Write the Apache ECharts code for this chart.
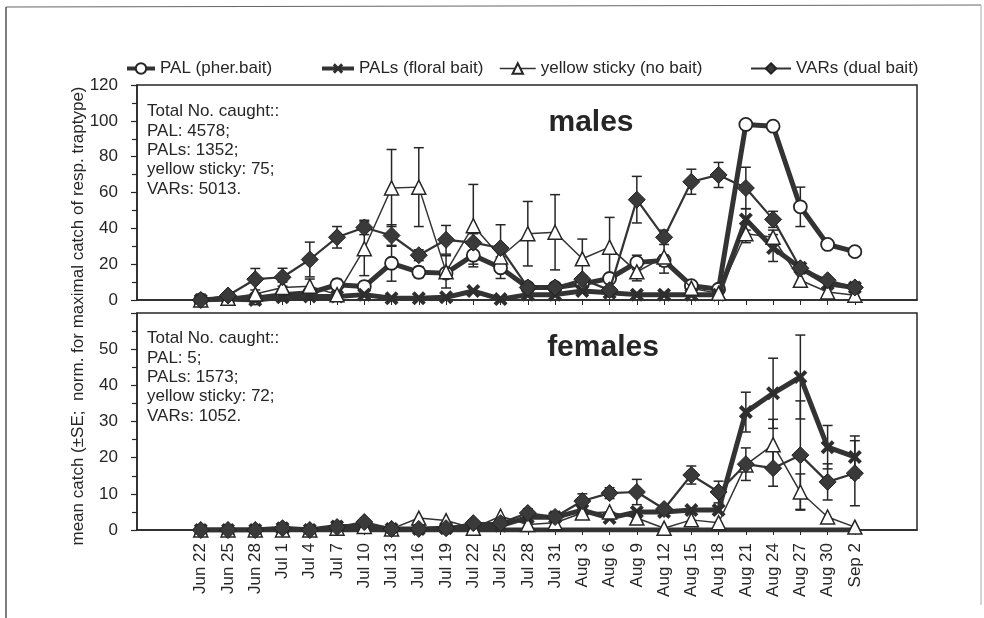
<!DOCTYPE html>
<html>
<head>
<meta charset="utf-8">
<script src="https://cdn.jsdelivr.net/npm/echarts@6/dist/echarts.min.js"></script>
<style>
  html, body { margin: 0; padding: 0; background: #ffffff; }
  #chart { width: 984px; height: 618px; }
</style>
</head>
<body>
<div id="chart"></div>
<script>
// Sampling dates (every 3 days)
const dates = ['Jun 22','Jun 25','Jun 28','Jul 1','Jul 4','Jul 7','Jul 10','Jul 13','Jul 16','Jul 19',
  'Jul 22','Jul 25','Jul 28','Jul 31','Aug 3','Aug 6','Aug 9','Aug 12','Aug 15','Aug 18',
  'Aug 21','Aug 24','Aug 27','Aug 30','Sep 2'];

const seriesNames = ['PAL (pher.bait)', 'PALs (floral bait)', 'yellow sticky (no bait)', 'VARs (dual bait)'];

// Males: mean catch, normalised, and standard errors
const malePAL      = [0,1,1,3,4,8.5,7.5,20.5,15.5,15,25,18,7,7,9,12,21,22,8,6,98,97,52,31,27];
const malePALse    = [0,0,0,0,0,3,0,10,3,0,5,6,0,0,0,0,4,3,0,0,0,0,11,0,2];
const malePALs     = [0,0.5,0,1.5,2,2,3,1,1,1.5,5,0.5,3,3,5,4,3,3,3,3,45,29,18,9,7];
const malePALsSe   = [0,0,0,0,0,0,0,0,0,0,0,0,0,0,0,0,0,0,0,0,6,7.5,2,0,0];
const maleYellow   = [0,1,3.3,7,7.7,3,28.6,62.5,63,15.7,41.5,24,37,37.8,23,29.5,15.7,24,6.6,3.7,37,35,11,4.5,2.7];
const maleYellowSe = [0,0,0,3,4,0,15,21.5,22,9,23,4,18,21,11,16.6,5,9,0,0,5,4,0,0,0];
const maleVARs     = [0,2.5,11.6,12.7,22.6,35,40.5,36,25,33.6,32,29,7,7,11.6,5.5,56,35,66,69.8,62.5,45,17.7,11,7];
const maleVARsSe   = [0,0,6,5,9.7,6,4,6,3,8,5,13,0,0,2,0,13,4,7,7,11.6,4.5,3,0,0];

// Females: mean catch and standard errors
const femPAL      = [0,0,0,0,0,0,0,0,0,0,0,0,0,0,0,0,0,0,0,0,0,0,0,0,0];
const femPALse    = [0,0,0,0,0,0,0,0,0,0,0,0,0,0,0,0,0,0,0,0,0,0,0,0,0];
const femPALs     = [0,0,0,0.5,0,1,1,0.3,0.3,0.5,1,1.2,3.5,3.5,5.5,3.3,5,5,5.5,5.5,32.6,37.8,42.3,22.9,20.2];
const femPALsSe   = [0,0,0,0,0,0,0,0,0,0,0,0,0,0,0,0,0,0,0,0,5.5,9.7,11.6,6,5.8];
const femYellow   = [0,0,0,0,0,0.5,1,0.3,3.3,2.6,0.5,3.8,1.5,2,4.7,5,3.3,0.5,2.8,2,18,23.6,10.5,3.6,0.8];
const femYellowSe = [0,0,0,0,0,0,0,0,0,0,0,0,0,0,0,0,0,0,0,0,0,7,5,0,0];
const femVARs     = [0,0,0,0.5,0,0.8,2.2,0.3,0.3,0.5,1.9,1.9,4.7,3.6,8,10.2,10.5,5.8,15.2,10.5,18.2,17.1,20.7,13.3,15.7];
const femVARsSe   = [0,0,0,0,0,0,0,0,0,0,0,0,1.2,1.5,2,1.5,3.5,0,2.5,3,4.5,5,15,5,9];

// Axis tick labels
const maleTicks = [0,20,40,60,80,100,120];
const femTicks  = [0,10,20,30,40,50];

const ink = '#262626';
const font = '"Liberation Sans", Arial, Helvetica, sans-serif';
const idx = dates.map((d, i) => i);

const xMin = -2.34, xMax = 26.28;

// Styles per trap type
const styles = [
  { symbol: 'circle', symbolSize: 13, lineWidth: 5, item: { color: '#ffffff', borderColor: ink, borderWidth: 1.8 } },
  { symbol: 'path://M2,0 L5,3 L8,0 L10,2 L7,5 L10,8 L8,10 L5,7 L2,10 L0,8 L3,5 L0,2 Z', symbolSize: 14, lineWidth: 5, item: { color: '#2e2e2e' } },
  { symbol: 'triangle', symbolSize: 14, lineWidth: 1.5, item: { color: '#ffffff', borderColor: ink, borderWidth: 1.5 } },
  { symbol: 'diamond', symbolSize: 17, lineWidth: 2.2, item: { color: '#3a3a3a', borderColor: '#222', borderWidth: 1 } }
];

function lineSeries(k, values, g) {
  const s = styles[k];
  return {
    type: 'line', name: seriesNames[k], xAxisIndex: g, yAxisIndex: g,
    data: values.map((v, i) => [i, v]),
    symbol: s.symbol, symbolSize: s.symbolSize, showAllSymbol: true,
    lineStyle: { color: '#333', width: s.lineWidth },
    itemStyle: s.item, z: 3 + k, animation: false
  };
}

function errSeries(values, se, g) {
  const data = [];
  values.forEach((v, i) => { if (se[i] > 0) data.push([i, Math.max(0, v - se[i]), v + se[i]]); });
  return {
    type: 'custom', xAxisIndex: g, yAxisIndex: g, data: data, z: 2, silent: true, animation: false,
    encode: { x: 0, y: [1, 2] },
    renderItem: function (params, api) {
      const lo = api.coord([api.value(0), api.value(1)]);
      const hi = api.coord([api.value(0), api.value(2)]);
      const w = 5;
      const st = { stroke: ink, lineWidth: 1.5 };
      return { type: 'group', children: [
        { type: 'line', shape: { x1: lo[0], y1: lo[1], x2: hi[0], y2: hi[1] }, style: st },
        { type: 'line', shape: { x1: hi[0] - w, y1: hi[1], x2: hi[0] + w, y2: hi[1] }, style: st },
        { type: 'line', shape: { x1: lo[0] - w, y1: lo[1], x2: lo[0] + w, y2: lo[1] }, style: st }
      ] };
    }
  };
}

function xAxisDef(g, labels) {
  return {
    type: 'value', gridIndex: g, min: xMin, max: xMax,
    axisLine: { show: true, onZero: false, lineStyle: { color: ink, width: 1.5 } },
    axisTick: { show: true, customValues: idx, length: 5, lineStyle: { color: ink, width: 1 } },
    axisLabel: labels ? {
      show: true, customValues: idx, rotate: 90, margin: 13,
      fontSize: 17, color: ink, fontFamily: font,
      formatter: v => dates[Math.round(v)] || ''
    } : { show: false },
    splitLine: { show: false }
  };
}

function yAxisDef(g, ticks, top) {
  return {
    type: 'value', gridIndex: g, min: 0, max: ticks[ticks.length - 1] + (top ? 0 : 10),
    interval: ticks[1] - ticks[0],
    axisLine: { show: true, onZero: false, lineStyle: { color: ink, width: 1.5 } },
    axisTick: { show: true, length: 6, lineStyle: { color: ink, width: 1.2 } },
    minorTick: { show: true, splitNumber: 2, length: 5, lineStyle: { color: ink, width: 1.2 } },
    axisLabel: {
      fontSize: 17, color: ink, fontFamily: font, margin: 19,
      formatter: v => (ticks.indexOf(v) >= 0 ? String(v) : '')
    },
    splitLine: { show: false }
  };
}

const legendWidth = [28, 32, 36, 40];
const legendText = [158, 357, 540, 795];
const legendLine = [4, 4, 1.5, 2];

const option = {
  backgroundColor: '#ffffff',
  animation: false,
  grid: [
    { left: 137, top: 85, width: 780, height: 215, show: true, borderColor: ink, borderWidth: 1.5, backgroundColor: 'transparent' },
    { left: 137, top: 313, width: 780, height: 217, show: true, borderColor: ink, borderWidth: 1.5, backgroundColor: 'transparent' }
  ],
  legend: seriesNames.map((n, k) => ({
    data: [n], left: legendText[k] - legendWidth[k] - 10, top: 55, itemWidth: legendWidth[k], itemHeight: 13,
    itemGap: 5, selectedMode: false,
    lineStyle: { width: legendLine[k], color: '#333' },
    textStyle: { fontSize: 17, color: ink, fontFamily: font }
  })),
  xAxis: [xAxisDef(0, false), xAxisDef(1, true)],
  yAxis: [yAxisDef(0, maleTicks, true), yAxisDef(1, femTicks, false)],
  series: [
    errSeries(malePAL, malePALse, 0),
    errSeries(malePALs, malePALsSe, 0),
    errSeries(maleYellow, maleYellowSe, 0),
    errSeries(maleVARs, maleVARsSe, 0),
    errSeries(femPAL, femPALse, 1),
    errSeries(femPALs, femPALsSe, 1),
    errSeries(femYellow, femYellowSe, 1),
    errSeries(femVARs, femVARsSe, 1),
    lineSeries(0, malePAL, 0),
    lineSeries(1, malePALs, 0),
    lineSeries(2, maleYellow, 0),
    lineSeries(3, maleVARs, 0),
    Object.assign(lineSeries(0, femPAL, 1), { showSymbol: false }),
    lineSeries(1, femPALs, 1),
    lineSeries(2, femYellow, 1),
    lineSeries(3, femVARs, 1)
  ],
  graphic: [
    // outer page frame
    { type: 'line', shape: { x1: 6, y1: 7, x2: 981, y2: 5 }, style: { stroke: '#666', lineWidth: 1.2 }, silent: true },
    { type: 'line', shape: { x1: 6, y1: 7, x2: 6, y2: 618 }, style: { stroke: '#555', lineWidth: 1.5 }, silent: true },
    { type: 'line', shape: { x1: 981, y1: 5, x2: 981, y2: 605 }, style: { stroke: '#aaa', lineWidth: 1 }, silent: true },
    // y axis title
    { type: 'text', x: 78, y: 316, rotation: Math.PI / 2, silent: true,
      style: { text: 'mean catch (\u00b1SE;  norm. for maximal catch of resp. traptype)', fill: ink,
        font: '17px ' + font, align: 'center', verticalAlign: 'middle' } },
    // panel annotations
    { type: 'text', x: 147, y: 102, silent: true,
      style: { text: 'Total No. caught::\nPAL: 4578;\nPALs: 1352;\nyellow sticky: 75;\nVARs: 5013.',
        fill: ink, font: '17px ' + font, lineHeight: 19.3 } },
    { type: 'text', x: 591, y: 123, silent: true,
      style: { text: 'males', fill: ink, font: 'bold 30px ' + font, align: 'center', verticalAlign: 'middle' } },
    { type: 'text', x: 147, y: 329, silent: true,
      style: { text: 'Total No. caught::\nPAL: 5;\nPALs: 1573;\nyellow sticky: 72;\nVARs: 1052.',
        fill: ink, font: '17px ' + font, lineHeight: 19.3 } },
    { type: 'text', x: 603, y: 348, silent: true,
      style: { text: 'females', fill: ink, font: 'bold 30px ' + font, align: 'center', verticalAlign: 'middle' } }
  ]
};

const chart = echarts.init(document.getElementById('chart'), null, { renderer: 'canvas' });
chart.setOption(option);
</script>
</body>
</html>
